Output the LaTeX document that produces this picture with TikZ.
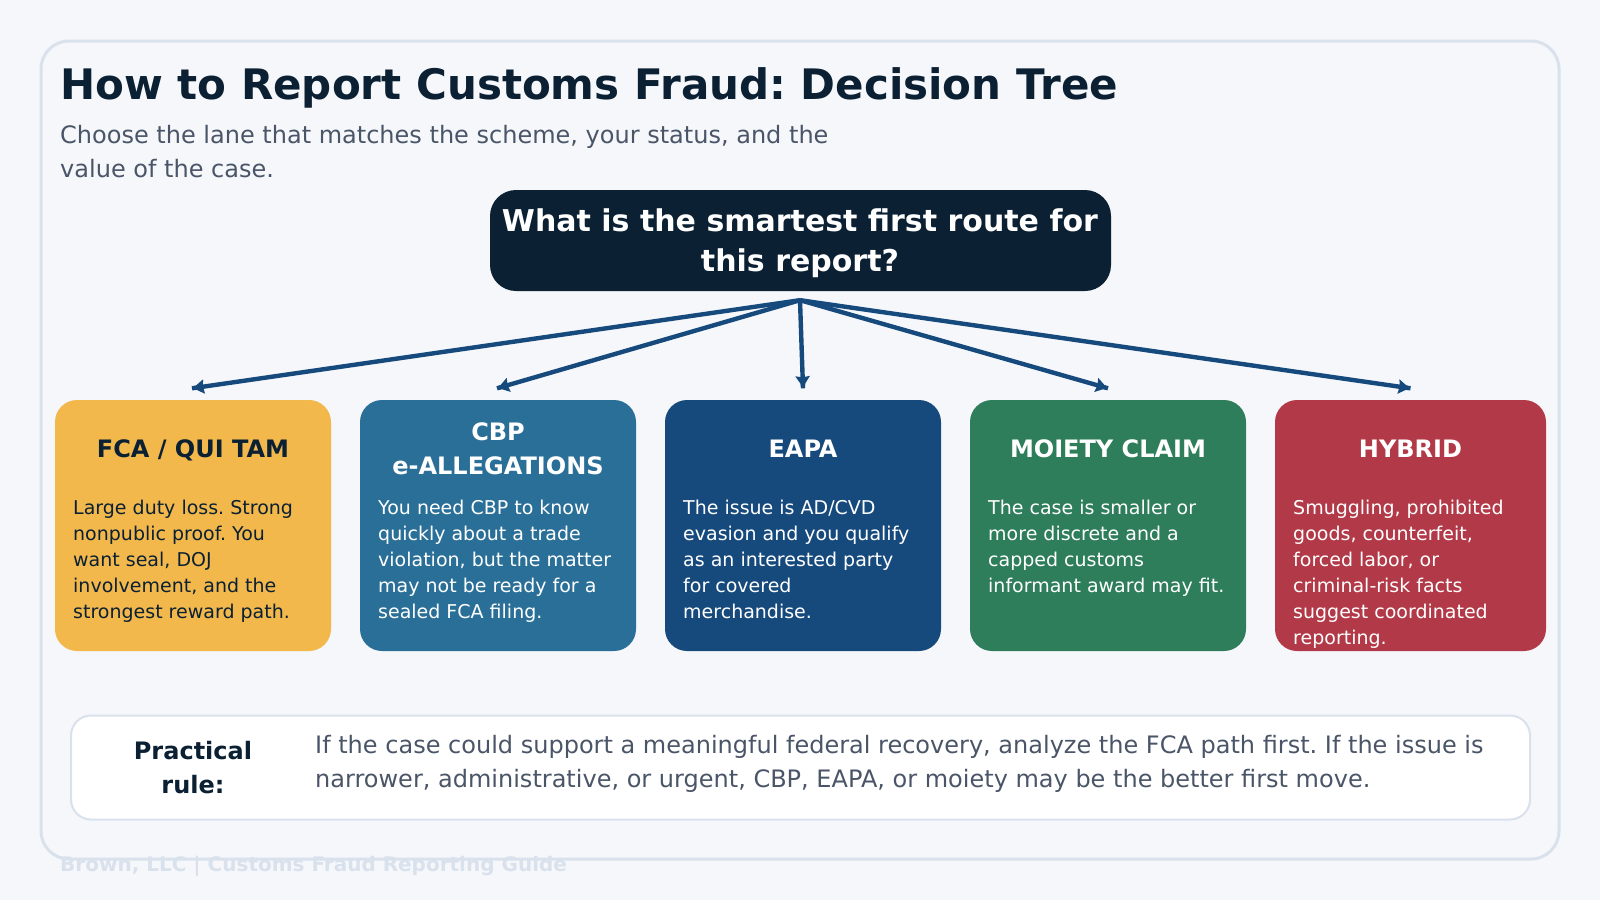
\documentclass[tikz,border=0pt]{standalone}
\usepackage{fontspec}
\setmainfont{DejaVu Sans}
\usetikzlibrary{arrows.meta}
\definecolor{pagebg}{HTML}{F5F7FB}
\definecolor{rimline}{HTML}{D9E2EC}
\definecolor{inkdark}{HTML}{0B2033}
\definecolor{slate}{HTML}{4A5568}
\definecolor{amber}{HTML}{F2B84B}
\definecolor{steel}{HTML}{2A6F97}
\definecolor{navy}{HTML}{174A7C}
\definecolor{forest}{HTML}{2E7D5B}
\definecolor{crimson}{HTML}{B23A48}
\frenchspacing
\begin{document}
\begin{tikzpicture}[x=1pt,y=-1pt,
    card/.style ={rounded corners=22pt, inner sep=0pt, minimum height=251pt},
    cardhead/.style ={anchor=base, inner sep=0pt, align=center, font=\fontsize{24}{34}\selectfont\bfseries},
    cardbody/.style ={anchor=north west, inner sep=0pt, align=left, font=\fontsize{19}{26}\selectfont},
    route/.style ={draw=navy, line width=4.4pt, -{Stealth[length=11pt,width=14pt,inset=1pt,sep=-3pt] Square[length=4pt,width=4.4pt]}}]
   \useasboundingbox (0,0) rectangle (1600,900);
   \fill[pagebg] (0,0) rectangle (1600,900);
   \draw[rimline, line width=3pt, rounded corners=28pt] (41,41) rectangle (1559,859);

   \node[anchor=base west, inner sep=0pt, text=inkdark, font=\fontsize{42}{50}\selectfont\bfseries] (title) at (60,99) {How to Report Customs Fraud: Decision Tree};
   \node[anchor=north west, inner sep=0pt, align=left, text=slate, font=\fontsize{24}{33.6}\selectfont] (subtitle) at (60,125) {Choose the lane that matches the scheme, your status, and the\\value of the case.};

   \node[fill=inkdark, rounded corners=26pt, minimum width=621pt, minimum height=101pt, inner sep=0pt] (root) at (800.5,240.5) {};
   \node[text=white, inner sep=0pt, align=center, font=\fontsize{30}{40}\selectfont\bfseries] (roothead) at (800,243.5) {What is the smartest first route for\\this report?};

   \node[card, fill=amber, minimum width=276pt] (fca) at (193,525.5) {};
   \node[card, fill=steel, minimum width=276pt] (cbp) at (498,525.5) {};
   \node[card, fill=navy, minimum width=276pt] (eapa) at (803,525.5) {};
   \node[card, fill=forest, minimum width=276pt] (moiety) at (1108,525.5) {};
   \node[card, fill=crimson, minimum width=271pt] (hybrid) at (1410.5,525.5) {};

   \node[cardhead, text=inkdark] (fcahead) at (193,457) {FCA / QUI TAM};
   \node[cardhead, text=white] (cbphead) at (498,474) {CBP\\e-ALLEGATIONS};
   \node[cardhead, text=white] (eapahead) at (803,457) {EAPA};
   \node[cardhead, text=white] (moietyhead) at (1108,457) {MOIETY CLAIM};
   \node[cardhead, text=white] (hybridhead) at (1410.5,457) {HYBRID};

   \node[cardbody, text=inkdark] (fcabody) at (73,500) {Large duty loss. Strong\\nonpublic proof. You\\want seal, DOJ\\involvement, and the\\strongest reward path.};
   \node[cardbody, text=white] (cbpbody) at (378,500) {You need CBP to know\\quickly about a trade\\violation, but the matter\\may not be ready for a\\sealed FCA filing.};
   \node[cardbody, text=white] (eapabody) at (683,500) {The issue is AD/CVD\\evasion and you qualify\\as an interested party\\for covered\\merchandise.};
   \node[cardbody, text=white] (moietybody) at (988,500) {The case is smaller or\\more discrete and a\\capped customs\\informant award may fit.};
   \node[cardbody, text=white] (hybridbody) at (1293,500) {Smuggling, prohibited\\goods, counterfeit,\\forced labor, or\\criminal-risk facts\\suggest coordinated\\reporting.};

   \draw[route] ([xshift=-.5pt,yshift=-9pt]root.south) -- ([xshift=-1pt,yshift=11.5pt]fca.north);
   \draw[route] ([xshift=-.5pt,yshift=-9pt]root.south) -- ([xshift=-1pt,yshift=11.5pt]cbp.north);
   \draw[route] ([xshift=-.5pt,yshift=-9pt]root.south) -- ([yshift=11.5pt]eapa.north);
   \draw[route] ([xshift=-.5pt,yshift=-9pt]root.south) -- ([yshift=11.5pt]moiety.north);
   \draw[route] ([xshift=-.5pt,yshift=-9pt]root.south) -- ([yshift=11.5pt]hybrid.north);

   \node[draw=rimline, line width=2pt, fill=white, rounded corners=20pt, minimum width=1459pt, minimum height=104pt, inner sep=0pt] (rule) at (800.5,767.5) {};
   \node[inner sep=0pt, align=center, text=inkdark, font=\fontsize{24}{33.6}\selectfont\bfseries] (rulehead) at (193,767.5) {Practical\\rule:};
   \node[anchor=north west, inner sep=0pt, align=left, text=slate, font=\fontsize{24}{33.6}\selectfont] (ruletext) at (315,735) {If the case could support a meaningful federal recovery, analyze the FCA path first. If the issue is\\narrower, administrative, or urgent, CBP, EAPA, or moiety may be the better first move.};

   \node[anchor=base west, inner sep=0pt, text=rimline, font=\fontsize{20}{24}\selectfont\bfseries] (footer) at (60,871) {Brown, LLC | Customs Fraud Reporting Guide};
\end{tikzpicture}
\end{document}
